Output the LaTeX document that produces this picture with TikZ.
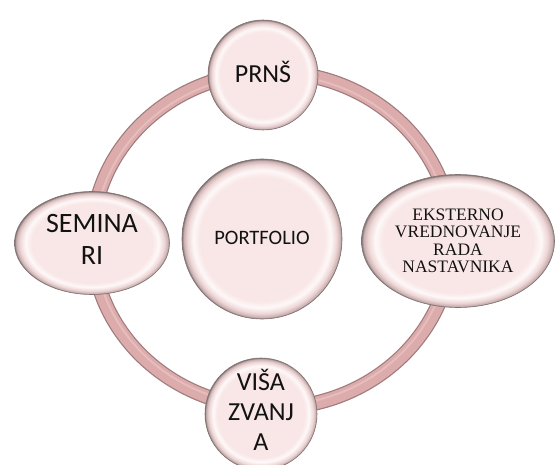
\documentclass[tikz,border=0pt]{standalone}
\usepackage{fontspec}
\newfontfamily\carl{Carlito}
\newfontfamily\lserif{Liberation Serif}
\usetikzlibrary{shapes.geometric}
\definecolor{nfin}{RGB}{249,231,231}
\definecolor{nfhi}{RGB}{254,248,248}
\definecolor{nfrim}{RGB}{238,214,214}
\definecolor{nfdark}{RGB}{200,176,176}
\definecolor{nfedge}{RGB}{130,114,114}
\definecolor{ringfill}{RGB}{220,172,172}
\definecolor{ringedge}{RGB}{160,124,124}
\definecolor{ringhi}{RGB}{230,188,188}
\definecolor{txt}{RGB}{18,18,18}
\pgfdeclareradialshading{nodeshade}{\pgfpoint{0bp}{0bp}}{color(0bp)=(nfin); color(19.5bp)=(nfin); color(21.5bp)=(nfhi); color(23.3bp)=(nfrim); color(24.5bp)=(nfdark); color(25bp)=(nfedge); color(50bp)=(nfedge)}
\tikzset{
  bub/.style={shading=nodeshade, draw=nfedge, line width=0.6pt, inner sep=0pt, text=txt, align=center},
  sansA/.style={font=\carl\fontsize{26}{30}\selectfont},
  sansB/.style={font=\carl\fontsize{28}{32}\selectfont},
  sansC/.style={font=\carl\fontsize{20.5}{24}\selectfont},
  serifA/.style={font=\lserif\fontsize{17.5}{17.5}\selectfont}
}
\begin{document}
\begin{tikzpicture}[x=1pt,y=-1pt]
\useasboundingbox (0,0) rectangle (557,465);
\coordinate (c) at (272,240);
\draw[ringedge, line width=15pt] (c) ellipse [x radius=180pt, y radius=168pt];
\draw[ringfill, line width=12.5pt] (c) ellipse [x radius=180pt, y radius=168pt];
\draw[ringhi, line width=2pt] (c) ellipse [x radius=177.5pt, y radius=165.5pt];
\node[bub, circle, minimum size=110pt, sansA, text depth=6pt] (prns) at (263,75) {PRNŠ};
\node[bub, circle, minimum size=112pt, sansA, text depth=9pt] (visa) at (261,414) {VIŠA\\ZVANJ\\A};
\node[bub, circle, minimum size=160pt, sansC, text depth=3pt] (port) at (262,239) {PORTFOLIO};
\node[bub, ellipse, minimum width=155pt, minimum height=103pt, sansB, text depth=7pt] (sem) at (92,243) {SEMINA\\RI};
\node[bub, ellipse, minimum width=193pt, minimum height=133pt, serifA] (ext) at (458,241) {EKSTERNO\\VREDNOVANJE\\RADA\\NASTAVNIKA};
\end{tikzpicture}
\end{document}
